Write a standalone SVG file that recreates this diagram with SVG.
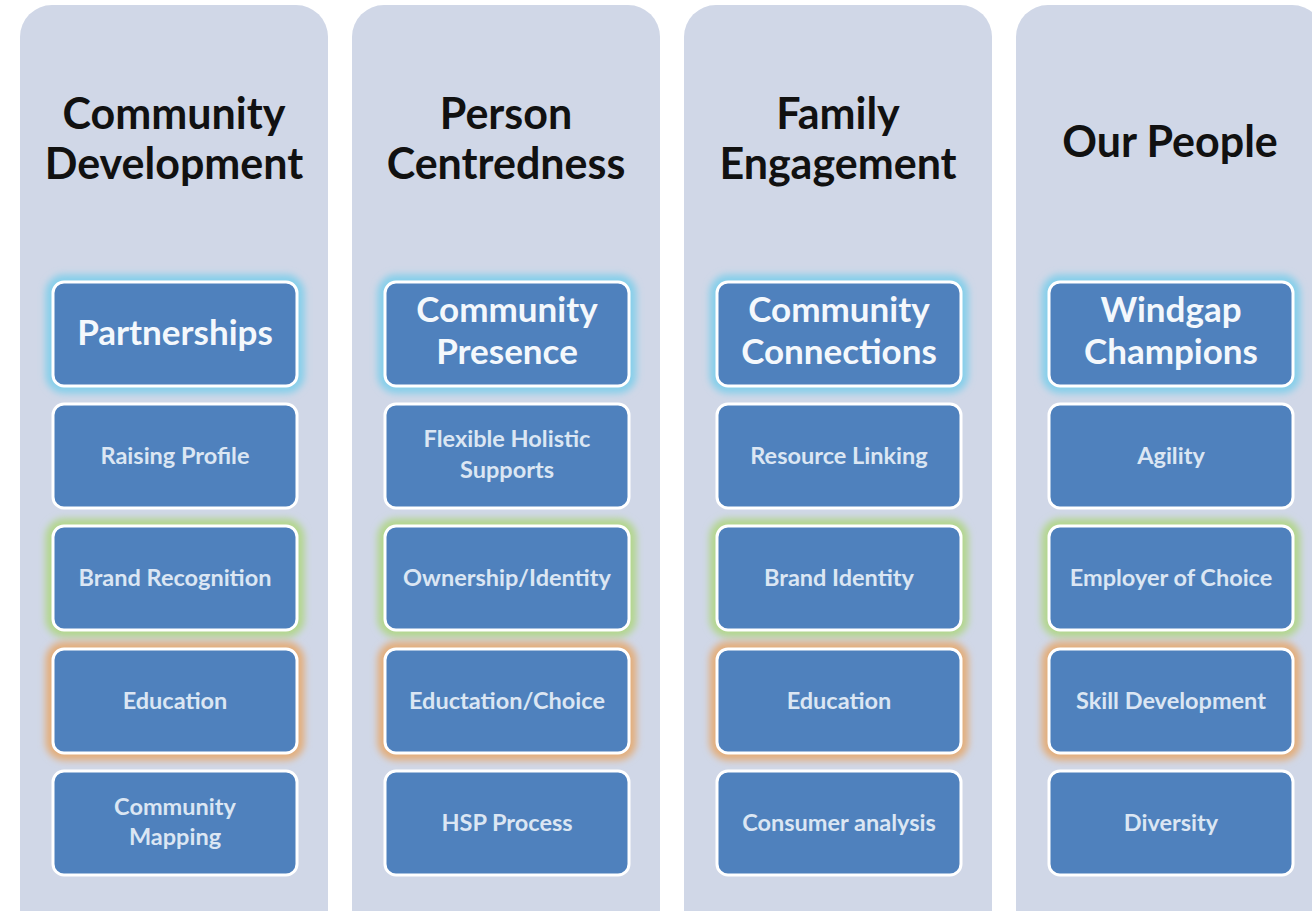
<svg xmlns="http://www.w3.org/2000/svg" width="1312" height="911" viewBox="0 0 1312 911">
<defs>
<filter id="blur" x="-20%" y="-20%" width="140%" height="140%"><feGaussianBlur stdDeviation="3.5"/></filter>
<style>
.panel{fill:#d0d7e7}
.box{fill:#4f81bd;stroke:#ffffff;stroke-width:3}
.glow{fill:none;stroke-width:15;filter:url(#blur)}
.cyan{stroke:#86cfea}
.green{stroke:#b3d68e}
.orange{stroke:#e3ae7c}
.head{font-family:Lato,"Open Sans",sans-serif;font-weight:bold;font-size:43px;fill:#111111;text-anchor:middle}
.t1{font-family:Lato,"Open Sans",sans-serif;font-weight:bold;font-size:35px;fill:#f4f8fc;text-anchor:middle}
.t2{font-family:Lato,"Open Sans",sans-serif;font-weight:bold;font-size:23.5px;fill:#dbe6f3;text-anchor:middle}
</style>
</defs>
<rect width="1312" height="911" fill="#ffffff"/>
<g id="col1">
<rect class="panel" x="20" y="5" width="308" height="940" rx="32"/>
<text class="head" x="174" y="129">Community</text>
<text class="head" x="174" y="179">Development</text>
</g>
<g id="col2">
<rect class="panel" x="352" y="5" width="308" height="940" rx="32"/>
<text class="head" x="506" y="129">Person</text>
<text class="head" x="506" y="179">Centredness</text>
</g>
<g id="col3">
<rect class="panel" x="684" y="5" width="308" height="940" rx="32"/>
<text class="head" x="838" y="129">Family</text>
<text class="head" x="838" y="179">Engagement</text>
</g>
<g id="col4">
<rect class="panel" x="1016" y="5" width="308" height="940" rx="32"/>
<text class="head" x="1170" y="157">Our People</text>
</g>

<g id="c1b1"><rect class="glow cyan" x="53" y="282" width="244" height="104" rx="11"/><rect class="box" x="53" y="282" width="244" height="104" rx="11"/><text class="t1" x="175" y="345">Partnerships</text></g>
<g id="c1b2"><rect class="box" x="53" y="404" width="244" height="104" rx="11"/><text class="t2" x="175" y="464">Raising Profile</text></g>
<g id="c1b3"><rect class="glow green" x="53" y="526" width="244" height="104" rx="11"/><rect class="box" x="53" y="526" width="244" height="104" rx="11"/><text class="t2" x="175" y="586">Brand Recognition</text></g>
<g id="c1b4"><rect class="glow orange" x="53" y="649" width="244" height="104" rx="11"/><rect class="box" x="53" y="649" width="244" height="104" rx="11"/><text class="t2" x="175" y="709">Education</text></g>
<g id="c1b5"><rect class="box" x="53" y="771" width="244" height="104" rx="11"/><text class="t2" x="175" y="815">Community</text><text class="t2" x="175" y="845">Mapping</text></g>

<g id="c2b1"><rect class="glow cyan" x="385" y="282" width="244" height="104" rx="11"/><rect class="box" x="385" y="282" width="244" height="104" rx="11"/><text class="t1" x="507" y="322">Community</text><text class="t1" x="507" y="364">Presence</text></g>
<g id="c2b2"><rect class="box" x="385" y="404" width="244" height="104" rx="11"/><text class="t2" x="507" y="447">Flexible Holistic</text><text class="t2" x="507" y="478">Supports</text></g>
<g id="c2b3"><rect class="glow green" x="385" y="526" width="244" height="104" rx="11"/><rect class="box" x="385" y="526" width="244" height="104" rx="11"/><text class="t2" x="507" y="586">Ownership/Identity</text></g>
<g id="c2b4"><rect class="glow orange" x="385" y="649" width="244" height="104" rx="11"/><rect class="box" x="385" y="649" width="244" height="104" rx="11"/><text class="t2" x="507" y="709">Eductation/Choice</text></g>
<g id="c2b5"><rect class="box" x="385" y="771" width="244" height="104" rx="11"/><text class="t2" x="507" y="831">HSP Process</text></g>

<g id="c3b1"><rect class="glow cyan" x="717" y="282" width="244" height="104" rx="11"/><rect class="box" x="717" y="282" width="244" height="104" rx="11"/><text class="t1" x="839" y="322">Community</text><text class="t1" x="839" y="364">Connections</text></g>
<g id="c3b2"><rect class="box" x="717" y="404" width="244" height="104" rx="11"/><text class="t2" x="839" y="464">Resource Linking</text></g>
<g id="c3b3"><rect class="glow green" x="717" y="526" width="244" height="104" rx="11"/><rect class="box" x="717" y="526" width="244" height="104" rx="11"/><text class="t2" x="839" y="586">Brand Identity</text></g>
<g id="c3b4"><rect class="glow orange" x="717" y="649" width="244" height="104" rx="11"/><rect class="box" x="717" y="649" width="244" height="104" rx="11"/><text class="t2" x="839" y="709">Education</text></g>
<g id="c3b5"><rect class="box" x="717" y="771" width="244" height="104" rx="11"/><text class="t2" x="839" y="831">Consumer analysis</text></g>

<g id="c4b1"><rect class="glow cyan" x="1049" y="282" width="244" height="104" rx="11"/><rect class="box" x="1049" y="282" width="244" height="104" rx="11"/><text class="t1" x="1171" y="322">Windgap</text><text class="t1" x="1171" y="364">Champions</text></g>
<g id="c4b2"><rect class="box" x="1049" y="404" width="244" height="104" rx="11"/><text class="t2" x="1171" y="464">Agility</text></g>
<g id="c4b3"><rect class="glow green" x="1049" y="526" width="244" height="104" rx="11"/><rect class="box" x="1049" y="526" width="244" height="104" rx="11"/><text class="t2" x="1171" y="586">Employer of Choice</text></g>
<g id="c4b4"><rect class="glow orange" x="1049" y="649" width="244" height="104" rx="11"/><rect class="box" x="1049" y="649" width="244" height="104" rx="11"/><text class="t2" x="1171" y="709">Skill Development</text></g>
<g id="c4b5"><rect class="box" x="1049" y="771" width="244" height="104" rx="11"/><text class="t2" x="1171" y="831">Diversity</text></g>
<g id="connectors"></g>
</svg>
